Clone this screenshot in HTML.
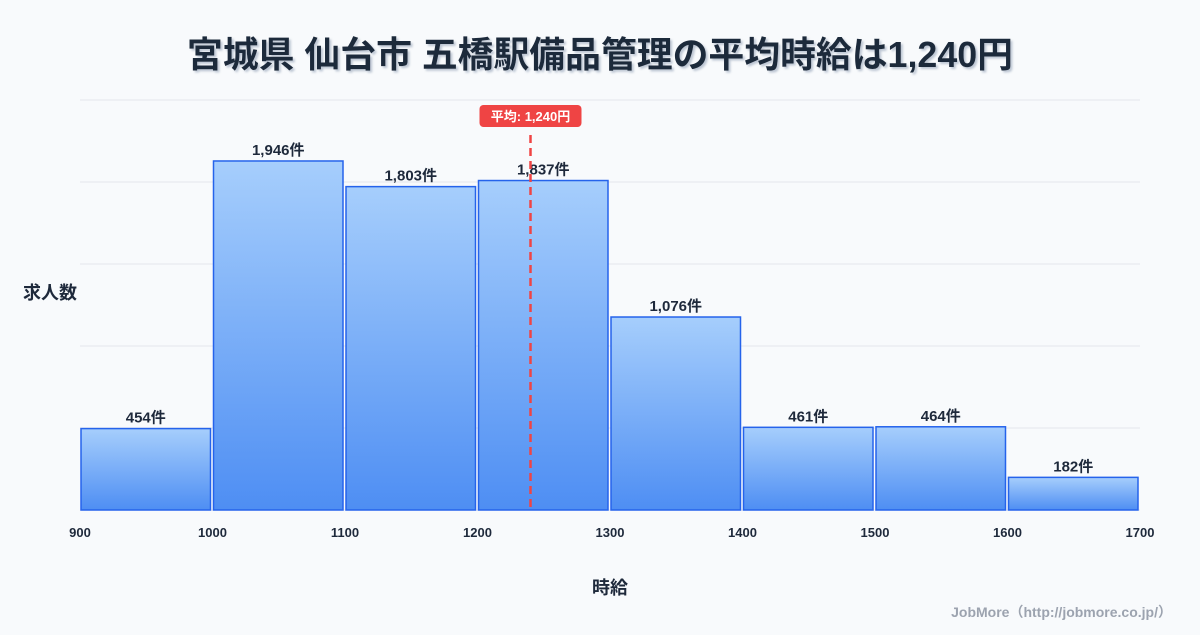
<!DOCTYPE html>
<html><head><meta charset="utf-8"><style>
body{margin:0;background:#f8fafc;font-family:"Liberation Sans","Noto Sans CJK JP",sans-serif;}
svg text{font-family:"Liberation Sans","Noto Sans CJK JP",sans-serif;}
</style></head><body>
<svg id="c" width="1200" height="630" viewBox="0 0 1200 630" xmlns="http://www.w3.org/2000/svg">
<defs><linearGradient id="g" x1="0" y1="0" x2="0" y2="1"><stop offset="0" stop-color="#a6cefc"/><stop offset="1" stop-color="#4e8ef3"/></linearGradient>
<filter id="sh"><feDropShadow dx="2" dy="2" stdDeviation="1" flood-color="#94a3b8" flood-opacity="0.6"/></filter></defs>
<rect width="1200" height="630" fill="#f8fafc"/>
<text x="600" y="67" text-anchor="middle" font-size="36" font-weight="bold" fill="#1e293b" filter="url(#sh)" textLength="826" lengthAdjust="spacingAndGlyphs">宮城県 仙台市 五橋駅備品管理の平均時給は1,240円</text>
<g id="grid"></g><g id="bars"></g><g id="xt"></g>
<text x="50" y="299" text-anchor="middle" font-size="18" font-weight="bold" fill="#1e293b">求人数</text>
<text x="610" y="594" text-anchor="middle" font-size="18" font-weight="bold" fill="#1e293b">時給</text>
<text x="1172" y="617" text-anchor="end" font-size="14" font-weight="bold" fill="#9ca3af">JobMore（http://jobmore.co.jp/）</text>
<g id="mean"></g>
</svg>
<script>
const binStarts=[900,1000,1100,1200,1300,1400,1500,1600];
const counts=[454,1946,1803,1837,1076,461,464,182];
const xTicks=[900,1000,1100,1200,1300,1400,1500,1600,1700];
const meanValue=1240;
const NS="http://www.w3.org/2000/svg";
const X0=80,X1=1140,Y0=510,Y1=100,XMIN=900,XMAX=1700,YMAX=2286;
const x=v=>X0+(v-XMIN)/(XMAX-XMIN)*(X1-X0);
const y=v=>Y0-v/YMAX*(Y0-Y1);
function mk(t,a,p){const e=document.createElementNS(NS,t);for(const k in a)e.setAttribute(k,a[k]);p.appendChild(e);return e;}
const grid=document.getElementById('grid');
for(let i=0;i<=5;i++){const gy=Y0-i*(Y0-Y1)/5;const l=mk('line',{x1:X0,x2:X1,y1:gy,y2:gy,stroke:'#e5e7eb','stroke-width':1},grid);

}
const bars=document.getElementById('bars');
binStarts.forEach((b,i)=>{const xa=x(b)+1,xb=x(b+100)-2;
const r=mk('rect',{x:xa,y:y(counts[i]),width:xb-xa,height:Y0-y(counts[i]),fill:'url(#g)',stroke:'#2563eb','stroke-width':1.5},bars);


const t=mk('text',{x:(xa+xb)/2,y:y(counts[i])-6,'text-anchor':'middle','font-size':15,'font-weight':'bold',fill:'#1e293b'},bars);
t.textContent=counts[i].toLocaleString('en-US')+'件';

});
const xt=document.getElementById('xt');
xTicks.forEach(v=>{const t=mk('text',{x:x(v),y:537,'text-anchor':'middle','font-size':13,'font-weight':'bold',fill:'#1e293b'},xt);
t.textContent=v;

});
const m=document.getElementById('mean');const mx=x(meanValue);
const ml=mk('line',{x1:mx,x2:mx,y1:135,y2:Y0,stroke:'#ef4444','stroke-width':2.5,'stroke-dasharray':'8,5'},m);


const mb=mk('rect',{x:mx-51,y:105,width:102,height:22,rx:4,fill:'#ef4444'},m);


const mt=mk('text',{x:mx,y:121,'text-anchor':'middle','font-size':13,'font-weight':'bold',fill:'#fff'},m);
mt.textContent='平均: '+meanValue.toLocaleString('en-US')+'円';


</script>
</body></html>
